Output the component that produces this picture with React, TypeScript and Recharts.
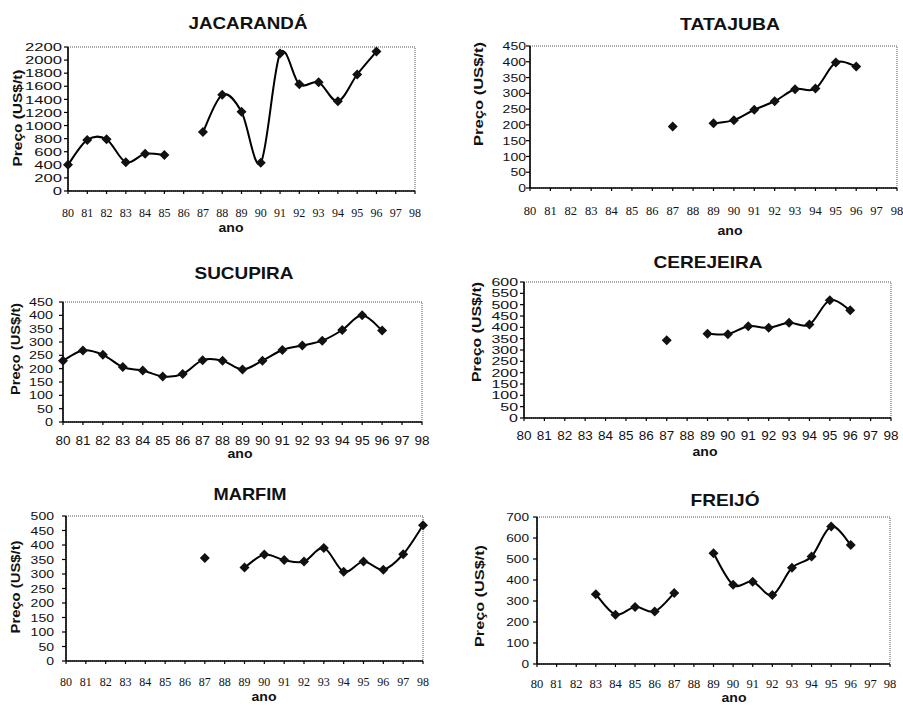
import React from 'react';
import { LineChart, Line, XAxis, YAxis, ReferenceArea } from 'recharts';

// anos 1980..1998 (eixo x)
const ANOS = [80, 81, 82, 83, 84, 85, 86, 87, 88, 89, 90, 91, 92, 93, 94, 95, 96, 97, 98];

// preços em US$/t, null = sem dado
const JACARANDA = [400, 780, 790, 440, 570, 550, null, 900, 1470, 1210, 430, 2100, 1630, 1660, 1370, 1780, 2130, null, null];
const TATAJUBA = [null, null, null, null, null, null, null, 195, null, 205, 215, 248, 275, 313, 315, 398, 385, null, null];
const SUCUPIRA = [230, 268, 252, 206, 193, 171, 180, 232, 230, 197, 230, 270, 287, 305, 345, 400, 343, null, null];
const CEREJEIRA = [null, null, null, null, null, null, null, 343, null, 372, 370, 405, 398, 420, 412, 520, 475, null, null];
const MARFIM = [null, null, null, null, null, null, null, 355, null, 322, 367, 348, 343, 390, 308, 343, 315, 368, 468];
const FREIJO = [null, null, null, 332, 235, 272, 250, 338, null, 527, 377, 392, 328, 458, 512, 655, 567, null, null];

const TICKS_JACARANDA = [0, 200, 400, 600, 800, 1000, 1200, 1400, 1600, 1800, 2000, 2200];
const TICKS_TATAJUBA = [0, 50, 100, 150, 200, 250, 300, 350, 400, 450];
const TICKS_SUCUPIRA = [0, 50, 100, 150, 200, 250, 300, 350, 400, 450];
const TICKS_CEREJEIRA = [0, 50, 100, 150, 200, 250, 300, 350, 400, 450, 500, 550, 600];
const TICKS_MARFIM = [0, 50, 100, 150, 200, 250, 300, 350, 400, 450, 500];
const TICKS_FREIJO = [0, 100, 200, 300, 400, 500, 600, 700];

const SANS = '"Liberation Sans", Arial, sans-serif';
const SERIF = '"Liberation Serif", "Times New Roman", serif';
const YW = 45;
const XH = 30;

// linha suavizada tipo Excel (Catmull-Rom passando por todos os pontos)
const curvaSuave = (context: any) => {
    let pts: number[][] = [];
    return {
        areaStart() {},
        areaEnd() {},
        lineStart() { pts = []; },
        point(x: number, y: number) { pts.push([+x, +y]); },
        lineEnd() {
            const n = pts.length;
            if (!n) return;
            context.moveTo(pts[0][0], pts[0][1]);
            for (let i = 0; i < n - 1; i++) {
                const p0 = pts[i - 1] || pts[i];
                const p1 = pts[i];
                const p2 = pts[i + 1];
                const p3 = pts[i + 2] || p2;
                context.bezierCurveTo(
                    p1[0] + (p2[0] - p0[0]) / 6, p1[1] + (p2[1] - p0[1]) / 6,
                    p2[0] - (p3[0] - p1[0]) / 6, p2[1] - (p3[1] - p1[1]) / 6,
                    p2[0], p2[1]
                );
            }
        },
    };
};

const Losango = (props: any) => {
    const { cx, cy, value } = props;
    if (cx == null || cy == null || value == null) return <g key={props.index} />;
    const r = 5;
    return (
        <polygon key={props.index} points={`${cx},${cy - r} ${cx + r},${cy} ${cx},${cy + r} ${cx - r},${cy}`} fill="#111" />
    );
};

const TickY = ({ x, y, payload, fs, sx }: any) => (
    <g transform={`translate(${x},${y})`}>
        <text transform={`scale(${sx},1)`} textAnchor="end" dy="0.36em" fontFamily={SANS} fontSize={fs} fill="#111">
            {payload.value}
        </text>
    </g>
);

const TickX = ({ x, y, payload, fonte, fs }: any) => (
    <text x={x} y={y} dy="0.72em" textAnchor="middle" fontFamily={fonte} fontSize={fs} fill="#111">
        {payload.value}
    </text>
);

type Painel = {
    titulo: string;
    valores: (number | null)[];
    ticksY: number[];
    caixa: { x: number; y: number; w: number; h: number };
    area: { x0: number; x1: number; y0: number; y1: number };
    xFonte: string; xTam: number; xMargem: number;
    yTam: number; yEsc: number; yMargem: number;
    tit: number[]; ano: number[]; rotulo: number[];
};

const PAINEIS: Painel[] = [
    {
        titulo: 'JACARANDÁ', valores: JACARANDA, ticksY: TICKS_JACARANDA,
        caixa: { x: 0, y: 0, w: 450, h: 240 }, area: { x0: 68, x1: 415, y0: 47, y1: 191 },
        xFonte: SERIF, xTam: 12, xMargem: 14, yTam: 11.5, yEsc: 1.45, yMargem: 2,
        tit: [248, 23, 119], ano: [231, 229], rotulo: [17, 118, 97],
    },
    {
        titulo: 'TATAJUBA', valores: TATAJUBA, ticksY: TICKS_TATAJUBA,
        caixa: { x: 450, y: 0, w: 453, h: 240 }, area: { x0: 530, x1: 897, y0: 46, y1: 188 },
        xFonte: SERIF, xTam: 12.5, xMargem: 15, yTam: 11.5, yEsc: 1.22, yMargem: 0,
        tit: [730, 24, 100], ano: [730, 232], rotulo: [478, 94, 104],
    },
    {
        titulo: 'SUCUPIRA', valores: SUCUPIRA, ticksY: TICKS_SUCUPIRA,
        caixa: { x: 0, y: 240, w: 450, h: 230 }, area: { x0: 63, x1: 422, y0: 302, y1: 422 },
        xFonte: SANS, xTam: 13.5, xMargem: 10, yTam: 11.5, yEsc: 1.25, yMargem: 6,
        tit: [244, 273, 99], ano: [240, 455], rotulo: [15, 349, 92],
    },
    {
        titulo: 'CEREJEIRA', valores: CEREJEIRA, ticksY: TICKS_CEREJEIRA,
        caixa: { x: 450, y: 240, w: 453, h: 230 }, area: { x0: 524, x1: 891, y0: 282, y1: 418 },
        xFonte: SANS, xTam: 13.5, xMargem: 9, yTam: 11, yEsc: 1.45, yMargem: 2,
        tit: [708, 262, 109], ano: [705, 453], rotulo: [476, 332, 100],
    },
    {
        titulo: 'MARFIM', valores: MARFIM, ticksY: TICKS_MARFIM,
        caixa: { x: 0, y: 470, w: 450, h: 236 }, area: { x0: 66, x1: 423, y0: 516, y1: 661 },
        xFonte: SERIF, xTam: 12, xMargem: 13, yTam: 11.5, yEsc: 1.22, yMargem: 8,
        tit: [250, 494, 73], ano: [264, 698], rotulo: [15, 587, 93],
    },
    {
        titulo: 'FREIJÓ', valores: FREIJO, ticksY: TICKS_FREIJO,
        caixa: { x: 450, y: 470, w: 453, h: 236 }, area: { x0: 537, x1: 890, y0: 517, y1: 664 },
        xFonte: SERIF, xTam: 12.5, xMargem: 12, yTam: 10.5, yEsc: 1.3, yMargem: 4,
        tit: [725, 500, 69], ano: [734, 699], rotulo: [479, 596, 102],
    },
];

function Grafico({ p }: { p: Painel }) {
    const c = p.caixa;
    const a = p.area;
    const data = ANOS.map((ano, i) => ({ ano, preco: p.valores[i] }));
    const yMax = p.ticksY[p.ticksY.length - 1];

    return (
        <div style={{ position: 'absolute', left: c.x, top: c.y, width: c.w, height: c.h }}>
            <LineChart
                width={c.w}
                height={c.h}
                data={data}
                margin={{
                    top: a.y0 - c.y,
                    right: c.x + c.w - a.x1,
                    bottom: c.y + c.h - a.y1 - XH,
                    left: a.x0 - c.x - YW,
                }}
            >
                <ReferenceArea x1={80} x2={98} y1={0} y2={yMax} fill="none" stroke="#555" strokeDasharray="1 1" ifOverflow="visible" />
                <XAxis
                    dataKey="ano" type="number" domain={[80, 98]} ticks={ANOS} interval={0} height={XH}
                    axisLine={{ stroke: '#000', strokeWidth: 1.6 }} tickLine={{ stroke: '#000', strokeWidth: 1.2 }}
                    tickSize={3} tickMargin={p.xMargem}
                    tick={(t: any) => <TickX key={t.index} {...t} fonte={p.xFonte} fs={p.xTam} />}
                />
                <YAxis
                    type="number" domain={[0, yMax]} ticks={p.ticksY} interval={0} width={YW}
                    axisLine={{ stroke: '#000', strokeWidth: 1.6 }} tickLine={{ stroke: '#000', strokeWidth: 1.2 }}
                    tickSize={4} tickMargin={p.yMargem}
                    tick={(t: any) => <TickY key={t.index} {...t} fs={p.yTam} sx={p.yEsc} />}
                />
                <Line
                    dataKey="preco" type={curvaSuave as any} stroke="#000" strokeWidth={2}
                    dot={Losango} activeDot={false} connectNulls={false} isAnimationActive={false}
                />
            </LineChart>
            <svg width={c.w} height={c.h} style={{ position: 'absolute', left: 0, top: 0, pointerEvents: 'none' }}>
                <text
                    x={p.tit[0] - c.x} y={p.tit[1] - c.y + 0.36 * 17} textAnchor="middle"
                    fontFamily={SANS} fontWeight="bold" fontSize={17} fill="#111"
                    textLength={p.tit[2]} lengthAdjust="spacingAndGlyphs"
                >
                    {p.titulo}
                </text>
                <text
                    x={p.ano[0] - c.x} y={p.ano[1] - c.y + 0.26 * 13} textAnchor="middle"
                    fontFamily={SANS} fontWeight="bold" fontSize={13} fill="#111"
                    textLength={25} lengthAdjust="spacingAndGlyphs"
                >
                    ano
                </text>
                <text
                    transform={`translate(${p.rotulo[0] - c.x},${p.rotulo[1] - c.y}) rotate(-90)`}
                    y={0.36 * 12.5} textAnchor="middle"
                    fontFamily={SANS} fontWeight="bold" fontSize={12.5} fill="#111"
                    textLength={p.rotulo[2]} lengthAdjust="spacingAndGlyphs"
                >
                    Preço (US$/t)
                </text>
            </svg>
        </div>
    );
}

export default function App() {
    return (
        <div style={{ position: 'absolute', left: 0, top: 0, width: 903, height: 706, background: '#fff', overflow: 'hidden' }}>
            {PAINEIS.map((p) => (
                <Grafico key={p.titulo} p={p} />
            ))}
        </div>
    );
}
